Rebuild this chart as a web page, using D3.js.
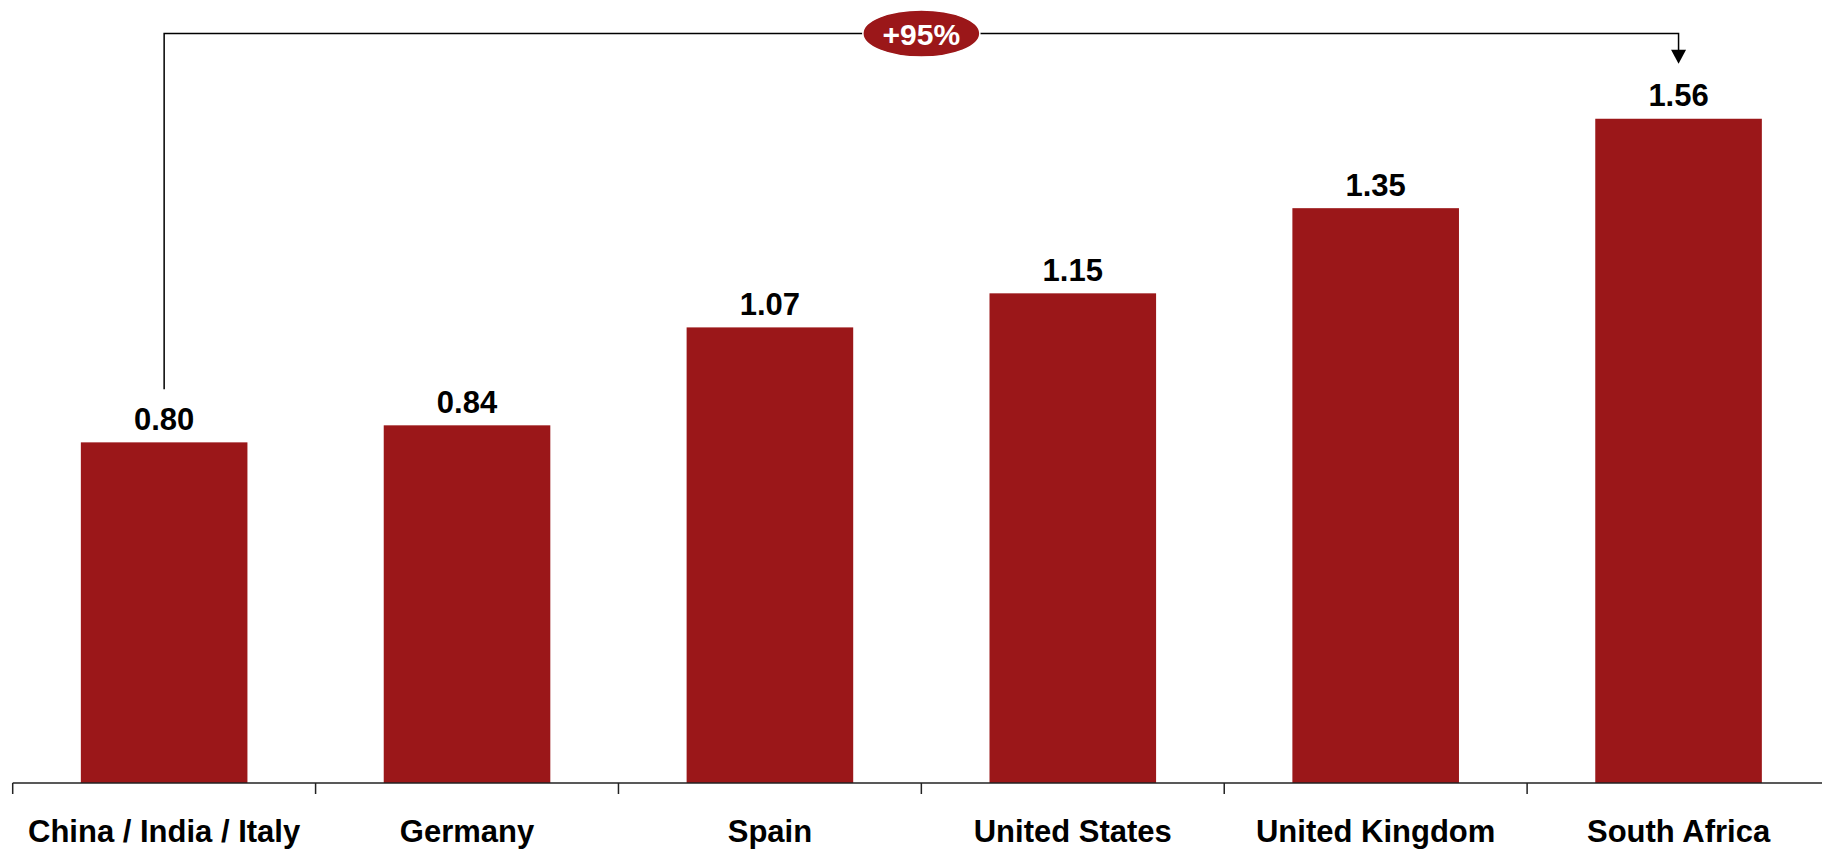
<!DOCTYPE html>
<html>
<head>
<meta charset="utf-8">
<script src="https://cdn.jsdelivr.net/npm/d3@7"></script>
<style>
  html, body { margin: 0; padding: 0; background: #fff; }
  svg { display: block; font-family: "Liberation Sans", Arial, Helvetica, sans-serif; }
</style>
</head>
<body>
<svg id="chart" width="1822" height="850"></svg>
<script>
// Chart data
const categories = ["China / India / Italy", "Germany", "Spain", "United States", "United Kingdom", "South Africa"];
const values = [0.80, 0.84, 1.07, 1.15, 1.35, 1.56];
const valueLabels = ["0.80", "0.84", "1.07", "1.15", "1.35", "1.56"];
const changeLabel = "+95%";

const W = 1822, H = 850;
const baseY = 783;
const barColor = "#9b1719";

const svg = d3.select("#chart");

const x = d3.scaleBand()
  .domain(categories)
  .range([12.7, 1830])
  .paddingInner(0.45)
  .paddingOuter(0.225);

const y = d3.scaleLinear()
  .domain([0, 1.8])
  .range([baseY, baseY - 1.8 * 425.8]);

const step = x.step();
const gap = (step - x.bandwidth()) / 2;

// Bars
svg.append("g").selectAll("rect")
  .data(categories)
  .join("rect")
  .attr("x", d => x(d))
  .attr("y", (d, i) => y(values[i]))
  .attr("width", x.bandwidth())
  .attr("height", (d, i) => baseY - y(values[i]))
  .attr("fill", barColor);

// Value labels
svg.append("g").selectAll("text")
  .data(categories)
  .join("text")
  .attr("x", d => x(d) + x.bandwidth() / 2)
  .attr("y", (d, i) => y(values[i]) - 12.5)
  .attr("text-anchor", "middle")
  .attr("font-size", 31)
  .attr("font-weight", "bold")
  .attr("fill", "#000")
  .text((d, i) => valueLabels[i]);

// Category axis
const axis = svg.append("g");
axis.append("line")
  .attr("x1", x.range()[0]).attr("x2", W)
  .attr("y1", baseY).attr("y2", baseY)
  .attr("stroke", "#222").attr("stroke-width", 1.5);
axis.selectAll("line.tick")
  .data(categories)
  .join("line")
  .attr("class", "tick")
  .attr("x1", d => x(d) - gap).attr("x2", d => x(d) - gap)
  .attr("y1", baseY).attr("y2", baseY + 11)
  .attr("stroke", "#222").attr("stroke-width", 1.5);
axis.selectAll("text")
  .data(categories)
  .join("text")
  .attr("x", d => x(d) + x.bandwidth() / 2)
  .attr("y", 842)
  .attr("text-anchor", "middle")
  .attr("font-size", 31)
  .attr("font-weight", "bold")
  .attr("fill", "#000")
  .text(d => d);

// Growth bracket from first to last bar
const first = categories[0], last = categories[categories.length - 1];
const x0 = x(first) + x.bandwidth() / 2;
const x1 = x(last) + x.bandwidth() / 2;
const bracketY = 33.5;
const y0End = y(values[0]) - 53;
const y1End = y(values[values.length - 1]) - 55;

const br = svg.append("g");
br.append("path")
  .attr("d", `M${x0},${y0End} V${bracketY} H${x1} V${y1End - 13}`)
  .attr("fill", "none")
  .attr("stroke", "#000")
  .attr("stroke-width", 1.5);
br.append("path")
  .attr("d", `M${x1 - 7.5},${y1End - 14} L${x1 + 7.5},${y1End - 14} L${x1},${y1End} Z`)
  .attr("fill", "#000");

const badgeX = (x0 + x1) / 2;
br.append("ellipse")
  .attr("cx", badgeX).attr("cy", bracketY)
  .attr("rx", 58.5).attr("ry", 23.5)
  .attr("fill", barColor)
  .attr("stroke", "#fff").attr("stroke-width", 1.5);
br.append("text")
  .attr("x", badgeX).attr("y", bracketY + 11)
  .attr("text-anchor", "middle")
  .attr("font-size", 30)
  .attr("font-weight", "bold")
  .attr("fill", "#fff")
  .text(changeLabel);
</script>
</body>
</html>
